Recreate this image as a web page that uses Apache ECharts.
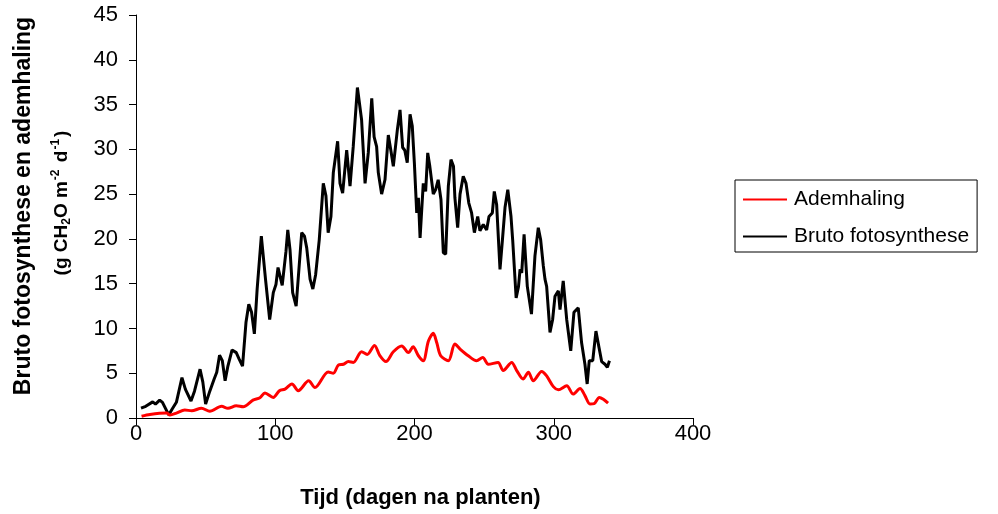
<!DOCTYPE html>
<html>
<head>
<meta charset="utf-8">
<script src="https://cdn.jsdelivr.net/npm/echarts@6/dist/echarts.min.js"></script>
<style>
html,body{margin:0;padding:0;background:#fff;}
#chart{width:998px;height:514px;}
</style>
</head>
<body>
<div id="chart"></div>
<script>
// Series names
const seriesNames = ['Ademhaling', 'Bruto fotosynthese'];

// Bruto fotosynthese (black) - days and values
const photoDays = [3.6,7,12,14,17,19,23.5,26,29,33,35.5,39.5,42,46,48,50,53,56,58,60,62,64,66,69,72,74,76.5,79,81,83,85,87,90,93,96,98.6,100.5,102,105,107.7,109,110.6,112.5,115,116.6,119,121,122.6,125,127,129,131.6,134.5,136.4,138,140,141.7,144.8,146.5,148.4,151.3,153.7,156,159,162,164.5,166.8,169.3,171,172.8,174,176.4,178.8,181.2,183,184.8,187.7,189.6,191.5,193,194.8,196.8,198.4,199.9,201.6,202.8,204,206.3,208,209.5,211,213.5,215.2,217,219,220.7,222.4,224.3,226.2,228,229,231,232.7,235,237,239,241,243,245.4,247,249.4,251.8,253.5,255.9,257.3,259,261.4,263,265,267,269.3,270.5,273,274.7,275.8,277,278.7,281,284,286.5,288.9,290.6,292.5,293.7,294.9,297.3,299.2,300.9,303.3,304.5,306.8,309.3,312.2,314.5,317.6,320,322.4,324,325.5,328,330.3,332.7,334.4,336.8,338.5,340];
const photoValues = [1.1,1.3,1.8,1.55,2.0,1.75,0.35,1.0,1.75,4.5,3.2,1.9,3.0,5.45,4.0,1.55,3.0,4.3,5.1,7.0,6.4,4.15,5.8,7.6,7.3,6.6,5.8,10.7,12.7,11.8,9.4,14.4,20.3,15.5,11.0,14.0,14.9,16.8,14.8,18.6,21.0,18.8,14.0,12.5,15.8,20.7,20.3,19.0,15.5,14.4,16.0,19.9,26.2,24.8,20.7,22.5,27.4,30.9,26.2,25.1,29.9,25.9,30.3,36.9,33.3,26.2,29.6,35.7,31.4,30.3,27.4,25.0,26.6,31.6,29.9,28.1,32.2,34.4,30.2,29.9,28.5,33.9,32.6,28.5,22.9,24.6,20.1,26.2,25.3,29.6,28.1,25.0,25.5,26.6,24.4,18.45,18.3,25.9,28.85,28.1,24.6,21.25,25.0,27.0,26.2,24.0,22.9,20.7,22.5,20.9,21.6,21.0,22.5,22.9,25.3,23.8,16.6,19.6,23.5,25.5,22.5,19.9,13.4,14.7,16.6,16.2,20.5,14.7,11.6,18.1,21.25,19.9,17.0,15.5,14.7,9.55,11.0,13.6,14.2,12.1,15.3,11.0,7.5,11.8,12.3,8.4,6.0,3.8,6.4,6.4,9.7,7.7,6.3,6.0,5.65,6.4];

// Ademhaling (red) - days and values
const respDays = [4,10,22,24.4,29,35,40,47,53,61.5,66,72,77,84,89,92.6,98.6,103,107,112,116.5,124,128.5,138,141.7,145.3,149,152.5,156,162,166,171.3,175,179.5,184.8,190.8,195.6,199,202.8,206.3,210,213.5,216,218.8,224.3,229,232.7,238.6,244.6,249,253,260,263.7,269.8,273.4,278,281.8,285.3,291.3,294.9,299.7,303.3,309.3,314,318.9,322.4,326,329,332.7,335.6,339];
const respValues = [0.2,0.4,0.55,0.33,0.55,0.9,0.8,1.1,0.75,1.3,1.08,1.37,1.26,2.0,2.26,2.8,2.3,3.05,3.23,3.8,3.05,4.15,3.4,5.15,5.0,5.9,6.0,6.3,6.2,7.4,7.1,8.1,7.0,6.3,7.4,8.05,7.3,7.95,6.95,6.4,8.6,9.45,8.4,6.95,6.4,8.25,7.7,6.95,6.4,6.75,6.0,6.2,5.3,6.2,5.3,4.35,5.1,4.15,5.2,4.7,3.5,3.15,3.6,2.67,3.3,2.5,1.56,1.6,2.3,2.1,1.67];

// Axis ticks / labels
const xTicks = [0, 100, 200, 300, 400];
const yTicks = [0, 5, 10, 15, 20, 25, 30, 35, 40, 45];
const xTitle = 'Tijd (dagen na planten)';
const yTitle1 = 'Bruto fotosynthese en ademhaling';

const FONT = "'Liberation Sans', Arial, sans-serif";
const pair = (xs, ys) => xs.map((x, i) => [x, ys[i]]);

const chart = echarts.init(document.getElementById('chart'), null, {renderer: 'canvas'});
chart.setOption({
  backgroundColor: '#ffffff',
  animation: false,
  grid: {left: 136, top: 15, right: 305, bottom: 95, containLabel: false},
  xAxis: {
    type: 'value',
    min: xTicks[0], max: xTicks[xTicks.length - 1], interval: 100,
    axisLine: {show: true, onZero: false, lineStyle: {color: '#000', width: 1}},
    axisTick: {show: true, inside: false, length: 7, lineStyle: {color: '#000'}},
    axisLabel: {color: '#000', fontSize: 22, fontFamily: FONT, margin: 5},
    splitLine: {show: false},
    name: xTitle, nameLocation: 'middle', nameGap: 69,
    nameTextStyle: {color: '#000', fontSize: 22, fontWeight: 'bold', fontFamily: FONT, padding: [0, 0, 0, 12]}
  },
  yAxis: {
    type: 'value',
    min: yTicks[0], max: yTicks[yTicks.length - 1], interval: 5,
    axisLine: {show: true, lineStyle: {color: '#000', width: 1}},
    axisTick: {show: true, inside: false, length: 7, lineStyle: {color: '#000'}},
    axisLabel: {color: '#000', fontSize: 22, fontFamily: FONT, margin: 18},
    splitLine: {show: false}
  },
  legend: {
    orient: 'vertical',
    left: 735, top: 180,
    padding: [9, 8, 5, 8],
    itemGap: 16,
    itemWidth: 44, itemHeight: 22,
    borderColor: '#000', borderWidth: 1,
    textStyle: {color: '#000', fontSize: 21, fontFamily: FONT, width: 185, padding: [0, 0, 0, 2]},
    data: seriesNames.map(n => ({name: n, icon: 'path://M0,10 L44,10 L44,12 L0,12 Z'}))
  },
  graphic: [
    {
      type: 'text', x: 24, y: 206, rotation: Math.PI / 2,
      style: {text: yTitle1, fill: '#000', font: "bold 23px 'Liberation Sans', Arial, sans-serif",
        textAlign: 'center', textVerticalAlign: 'middle'}
    },
    {
      type: 'text', x: 62, y: 203, rotation: Math.PI / 2,
      style: {
        text: '{a|(g CH}{s|2}{a|O m}{p|-2}{a| d}{p|-1}{a|)}',
        textAlign: 'center', textVerticalAlign: 'middle',
        rich: {
          a: {fontSize: 19, fontWeight: 'bold', fontFamily: FONT, fill: '#000', color: '#000', lineHeight: 24, verticalAlign: 'middle'},
          s: {fontSize: 12, fontWeight: 'bold', fontFamily: FONT, fill: '#000', color: '#000', lineHeight: 24, verticalAlign: 'bottom', padding: [0, 0, 1, 0]},
          p: {fontSize: 12, fontWeight: 'bold', fontFamily: FONT, fill: '#000', color: '#000', lineHeight: 24, verticalAlign: 'top', padding: [0, 2, 0, 1]}
        }
      }
    }
  ],
  series: [
    {
      name: seriesNames[0], type: 'line', data: pair(respDays, respValues),
      showSymbol: false, symbol: 'none', smooth: 0.3,
      lineStyle: {color: '#ff0000', width: 3}, itemStyle: {color: '#ff0000'}, z: 3
    },
    {
      name: seriesNames[1], type: 'line', data: pair(photoDays, photoValues),
      showSymbol: false, symbol: 'none',
      lineStyle: {color: '#000000', width: 3}, itemStyle: {color: '#000000'}, z: 2
    }
  ]
});
</script>
</body>
</html>
